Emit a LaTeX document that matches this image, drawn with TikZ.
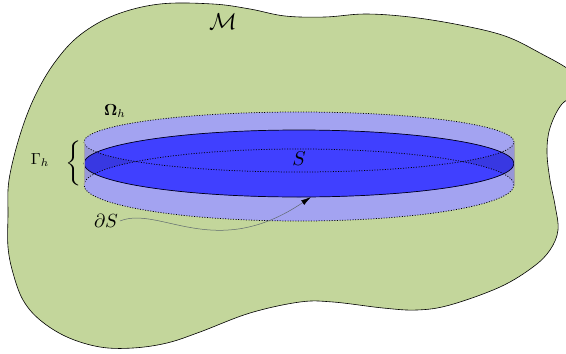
\documentclass[tikz,border=0pt]{standalone}
\usetikzlibrary{arrows.meta}
\definecolor{blobgreen}{RGB}{195,214,155}
\definecolor{bandblue}{RGB}{163,163,241}
\definecolor{sideblue}{RGB}{150,150,216}
\definecolor{diskblue}{RGB}{64,64,255}
\definecolor{tipblue}{RGB}{56,56,226}
\definecolor{arrgray}{RGB}{95,105,110}
\tikzset{
  outline/.style={draw=black, line width=0.6pt},
  dotline/.style={draw=black, line width=0.75pt, dash pattern=on 1pt off 1.6pt},
  sideline/.style={draw=black!35, line width=0.5pt},
  lbl/.style={inner sep=0pt, outer sep=1pt}
}
\begin{document}
\begin{tikzpicture}[x=1pt,y=-1pt]
\useasboundingbox (0,0) rectangle (566,354);
\clip (0,0) rectangle (566,354);
% manifold blob
\path[fill=blobgreen, outline] plot[smooth cycle, tension=0.6] coordinates {
 (8,215) (9,180) (20,135) (35,96) (55,62) (80,35) (115,15) (160,4) (213,4)
 (250,9) (285,16) (325,17) (365,14) (410,17) (460,25) (505,36) (540,53)
 (572,72) (582,90) (562,104) (550,128) (547,152) (550,180) (555,205)
 (558,230) (550,250) (533,267) (500,287) (450,305) (417,310) (383,308)
 (333,302) (300,302) (250,313) (200,332) (167,343) (133,348) (100,347)
 (67,337) (40,320) (23,300) (13,273) (8,247)};
% coordinates of the cylinder
\coordinate (up) at (299,142);
\coordinate (lo) at (299,185);
\coordinate (dc) at (299,163.5);
% cylinder band
\fill[sideblue] (84,142) rectangle (514,185);
\fill[bandblue] (up) ellipse [x radius=215pt, y radius=30pt];
\fill[bandblue] (lo) ellipse [x radius=215pt, y radius=36pt];
% disk S
\fill[tipblue] (dc) ellipse [x radius=215pt, y radius=33.5pt];
\begin{scope}
  \clip (dc) ellipse [x radius=215pt, y radius=33.5pt];
  \fill[diskblue] (up) ellipse [x radius=215pt, y radius=30pt];
  \fill[diskblue] (lo) ellipse [x radius=215pt, y radius=36pt];
\end{scope}
\draw[draw=black!90!blue, line width=0.7pt] (dc) ellipse [x radius=215pt, y radius=33.5pt];
% dotted rims and side lines
\draw[dotline] (up) ellipse [x radius=215pt, y radius=30pt];
\draw[dotline] (lo) ellipse [x radius=215pt, y radius=36pt];
\draw[sideline] (84,142) -- (84,185);
\draw[sideline] (514,142) -- (514,185);
% labels
\node[lbl, scale=2.3] (M) at (223,22) {$\mathcal{M}$};
\node[lbl, scale=2.0] (S) at (299,159) {$S$};
\node[lbl, scale=1.6] (Om) at (115,111) {$\mathbf{\Omega}_h$};
\node[lbl, scale=1.6] (Ga) at (40,160) {$\Gamma_h$};
\node[lbl, xscale=2.0, yscale=1.5] (br) at (74,163) {$\Bigg\{$};
\node[lbl, scale=1.9] (dS) at (106,221) {$\partial S$};
\coordinate (tip) at (311,197);
\draw[arrgray, line width=0.5pt, -{Latex[length=10pt,width=5.5pt,color=black]}]
  (dS.east) .. controls (160,205) and (215,262) .. (tip);
\end{tikzpicture}
\end{document}
